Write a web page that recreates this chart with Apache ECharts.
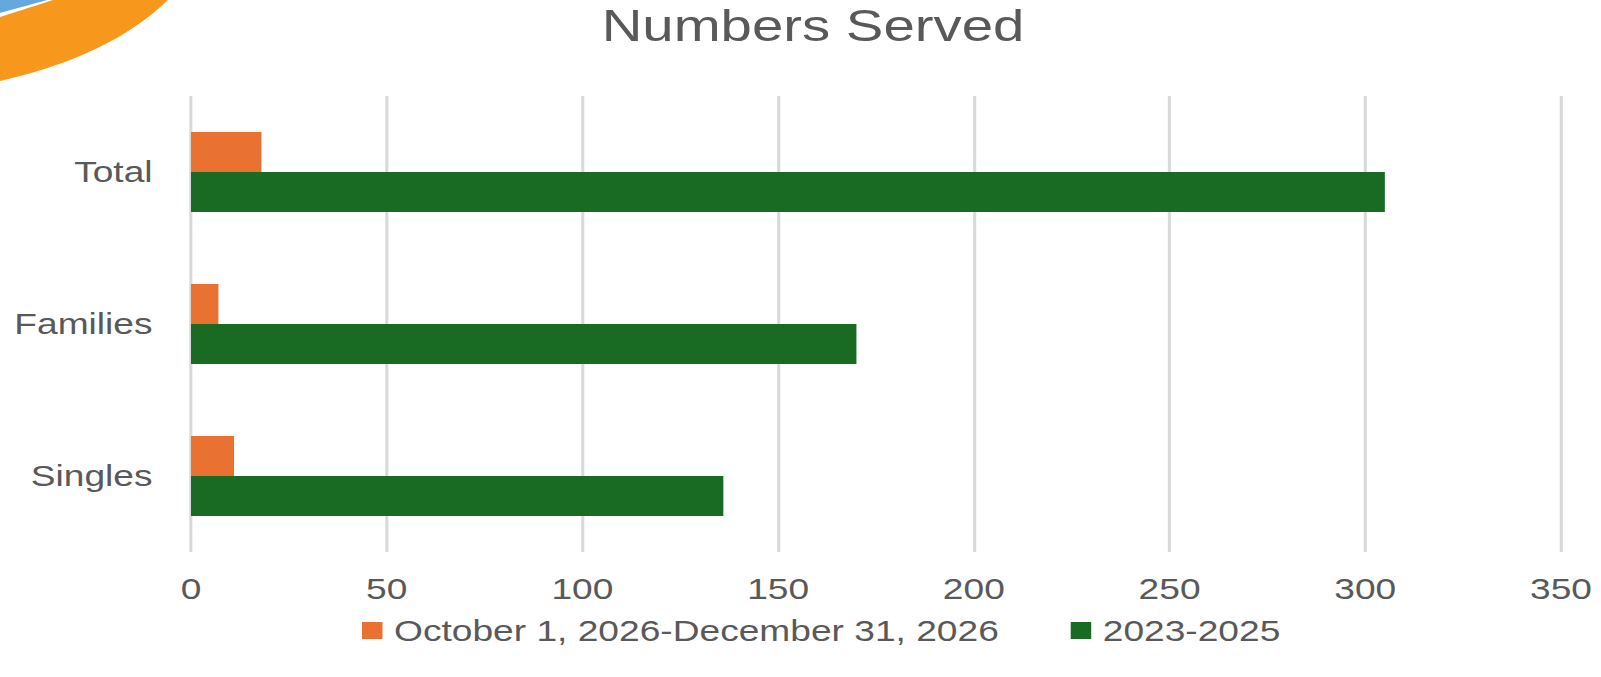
<!DOCTYPE html>
<html>
<head>
<meta charset="utf-8">
<script src="https://cdn.jsdelivr.net/npm/echarts@6/dist/echarts.min.js"></script>
<style>
html,body{margin:0;padding:0;background:#fff;overflow:hidden}
#wrap{width:1601px;height:677px;overflow:hidden;position:relative}
#chart{width:1250px;height:677px;transform:scaleX(1.2808);transform-origin:0 0}
</style>
</head>
<body>
<div id="wrap"><div id="chart"></div></div>
<script>
// ---- data ----
const categories = ['Singles', 'Families', 'Total'];
const seriesNames = ['October 1, 2026-December 31, 2026', '2023-2025'];
const recentValues = [11, 7, 18];
const pastValues = [136, 170, 305];
const xTickValues = [0, 50, 100, 150, 200, 250, 300, 350];
const titleText = 'Numbers Served';

const S = 1601 / 1250; // horizontal stretch of the picture
const FONT = "'Liberation Sans', Arial, sans-serif";
const TXT = '#595959';
const ORANGE = '#E97132';
const GREEN = '#196B24';

// decorative logo fragment in the top-left corner (quadratic curves sampled)
function quad(p0, p1, p2, n) {
  const pts = [];
  for (let i = 0; i <= n; i++) {
    const t = i / n, a = (1 - t) * (1 - t), b = 2 * (1 - t) * t, c = t * t;
    pts.push([(a * p0[0] + b * p1[0] + c * p2[0]) / S, a * p0[1] + b * p1[1] + c * p2[1]]);
  }
  return pts;
}
const orangePts = quad([0, 17], [25, 9], [53, 0], 12)
  .concat(quad([168, 0], [110, 56], [0, 81], 24));
const bluePts = [[0, 0], [47 / S, 0]].concat(quad([47, 0], [22, 7], [0, 13], 10));

const chart = echarts.init(document.getElementById('chart'), null, { renderer: 'svg' });
chart.setOption({
  backgroundColor: '#ffffff',
  animation: false,
  title: {
    text: titleText,
    left: 813 / S,
    textAlign: 'center',
    top: 4,
    padding: 0,
    textStyle: { fontFamily: FONT, fontSize: 44, fontWeight: 'normal', color: TXT }
  },
  legend: {
    data: seriesNames,
    left: 362 / S,
    top: 616,
    padding: 0,
    itemWidth: 16,
    itemHeight: 17,
    itemGap: 56,
    icon: 'rect',
    textStyle: { fontFamily: FONT, fontSize: 29, color: TXT, padding: [0, 0, 0, 4] }
  },
  graphic: [
    { type: 'polygon', silent: true, z: -1, shape: { points: orangePts }, style: { fill: '#F7981D' } },
    { type: 'polygon', silent: true, z: -1, shape: { points: bluePts }, style: { fill: '#63A9DD' } }
  ],
  grid: { left: 191 / S, right: 1250 - 1561 / S, top: 96, bottom: 677 - 552, containLabel: false },
  xAxis: {
    type: 'value',
    min: xTickValues[0],
    max: xTickValues[xTickValues.length - 1],
    interval: xTickValues[1] - xTickValues[0],
    axisLine: { show: false },
    axisTick: { show: false },
    axisLabel: { fontFamily: FONT, fontSize: 29, color: TXT, margin: 22 },
    splitLine: { show: true, lineStyle: { color: '#D9D9D9', width: 2.4 } }
  },
  yAxis: {
    type: 'category',
    data: categories,
    axisLine: { show: false },
    axisTick: { show: false },
    axisLabel: { fontFamily: FONT, fontSize: 29, color: TXT, margin: 30 },
    splitLine: { show: false }
  },
  series: [
    { name: seriesNames[0], type: 'bar', data: recentValues, barWidth: 40, barGap: '0%',
      itemStyle: { color: ORANGE } },
    { name: seriesNames[1], type: 'bar', data: pastValues, barWidth: 40, barGap: '0%',
      itemStyle: { color: GREEN } }
  ]
});
</script>
</body>
</html>
